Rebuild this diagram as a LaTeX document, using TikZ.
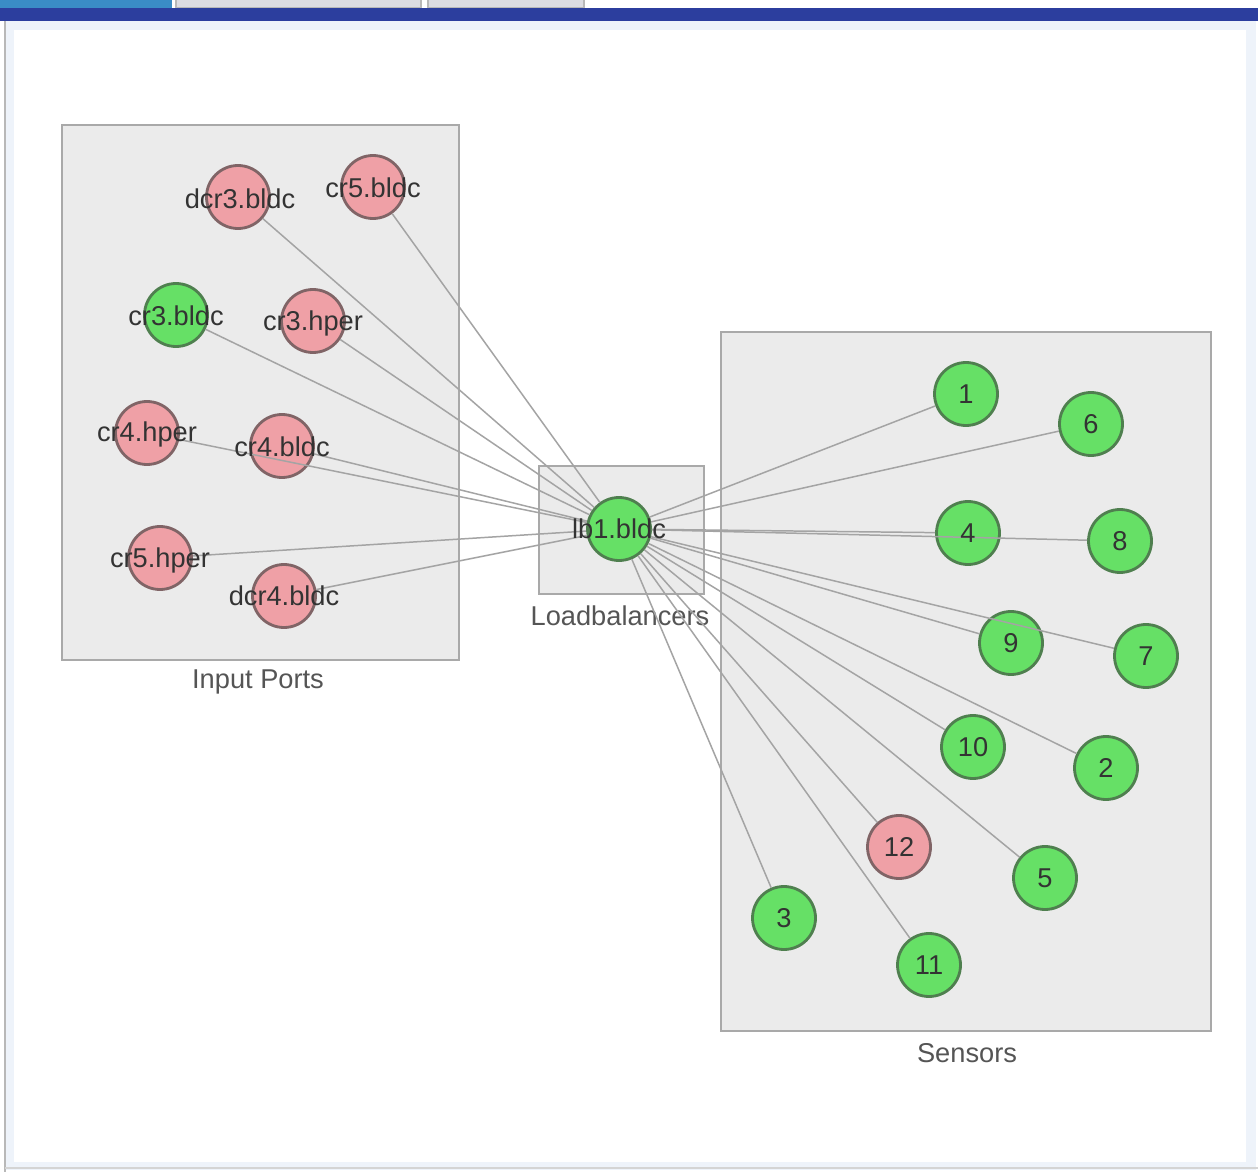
\documentclass[tikz,border=0pt]{standalone}
\usepackage{fontspec}
\setmainfont{Liberation Sans}
\definecolor{gfill}{HTML}{66E066}
\definecolor{gline}{HTML}{4F7F4F}
\definecolor{pfill}{HTML}{EFA0A6}
\definecolor{pline}{HTML}{806466}
\definecolor{boxfill}{HTML}{EBEBEB}
\definecolor{boxline}{HTML}{A9A9A9}
\definecolor{edgecol}{HTML}{A4A4A4}
\definecolor{txt}{HTML}{333333}
\definecolor{grptxt}{HTML}{555555}
\definecolor{barblue}{HTML}{2C3E9E}
\definecolor{tabblue}{HTML}{3A8CC6}
\definecolor{tabgray}{HTML}{DCDCE2}
\definecolor{frame}{HTML}{B8B8B8}
\definecolor{glow}{HTML}{EEF3FA}
\tikzset{
  vtx/.style={circle, minimum size=63*0.02cm, inner sep=0pt, line width=1.6pt},
  gvtx/.style={vtx, fill=gfill, draw=gline},
  pvtx/.style={vtx, fill=pfill, draw=pline},
  vlabel/.style={font=\fontsize{15.5pt}{17pt}\selectfont, text=txt, inner sep=0pt},
  grplabel/.style={font=\fontsize{15.5pt}{17pt}\selectfont, text=grptxt, inner sep=0pt},
  grpbox/.style={fill=boxfill, draw=boxline, line width=1pt},
  edge/.style={draw=edgecol, line width=0.85pt}
}
\begin{document}
\begin{tikzpicture}[x=0.02cm,y=-0.02cm]
\useasboundingbox (0,0) rectangle (1258,1172);
% window frame
\fill[white] (0,0) rectangle (1258,1172);
\fill[glow] (4,20) rectangle (1256,1170);
\fill[white] (14,30) rectangle (1246,1162);
\draw[frame, line width=1.5pt] (5,20) -- (5,1172);
\draw[frame!60, line width=0.8pt] (5,1168) -- (1258,1168);
% tabs and bar
\fill[tabblue] (0,0) rectangle (172,10);
\filldraw[fill=tabgray, draw=frame, line width=0.6pt] (176,-2) rectangle (421,8);
\filldraw[fill=tabgray, draw=frame, line width=0.6pt] (428,-2) rectangle (584,8);
\fill[barblue] (0,8) rectangle (1258,21);
% group boxes
\node[grpbox, minimum width=397*0.02cm, minimum height=535*0.02cm, anchor=north west] (gin) at (61,124) {};
\node[grpbox, minimum width=165*0.02cm, minimum height=128*0.02cm, anchor=north west] (glb) at (538,465) {};
\node[grpbox, minimum width=490*0.02cm, minimum height=699*0.02cm, anchor=north west] (gse) at (720,331) {};
\node[grplabel] (tin) at (258,682) {Input Ports};
\node[grplabel] (tlb) at (620,616) {Loadbalancers};
\node[grplabel] (tse) at (967,1053) {Sensors};
% vertices
\node[pvtx] (dcr3b) at (238,197) {};
\node[pvtx] (cr5b) at (373,187) {};
\node[gvtx] (cr3b) at (176,315) {};
\node[pvtx] (cr3h) at (313,321) {};
\node[pvtx] (cr4h) at (147,433) {};
\node[pvtx] (cr4b) at (282,446) {};
\node[pvtx] (cr5h) at (160,558) {};
\node[pvtx] (dcr4b) at (284,596) {};
\node[gvtx] (lb) at (619,529) {};
\node[gvtx] (s1) at (966,394) {};
\node[gvtx] (s6) at (1091,424) {};
\node[gvtx] (s4) at (968,533) {};
\node[gvtx] (s8) at (1120,541) {};
\node[gvtx] (s9) at (1011,643) {};
\node[gvtx] (s7) at (1146,656) {};
\node[gvtx] (s10) at (973,747) {};
\node[gvtx] (s2) at (1106,768) {};
\node[pvtx] (s12) at (899,847) {};
\node[gvtx] (s5) at (1045,878) {};
\node[gvtx] (s3) at (784,918) {};
\node[gvtx] (s11) at (929,965) {};
% edges
\foreach \n in {dcr3b,cr5b,cr3b,cr3h,cr4h,cr4b,cr5h,dcr4b,s1,s6,s4,s8,s9,s7,s10,s2,s12,s5,s3,s11}
  \path[edge] (lb) -- (\n);
% vertex labels
\node[vlabel] (ldcr3b) at ([xshift=2*0.02cm,yshift=-2*0.02cm]dcr3b.center) {dcr3.bldc};
\node[vlabel] (lcr5b) at ([yshift=-1*0.02cm]cr5b.center) {cr5.bldc};
\node[vlabel] (lcr3b) at ([yshift=-1*0.02cm]cr3b.center) {cr3.bldc};
\node[vlabel] (lcr3h) at ([yshift=-2*0.02cm]cr3h.center) {cr3.hper};
\node[vlabel] (lcr4h) at ([yshift=-1*0.02cm]cr4h.center) {cr4.hper};
\node[vlabel] (lcr4b) at ([yshift=-1*0.02cm]cr4b.center) {cr4.bldc};
\node[vlabel] (lcr5h) at ([yshift=-2*0.02cm]cr5h.center) {cr5.hper};
\node[vlabel] (ldcr4b) at (dcr4b.center) {dcr4.bldc};
\node[vlabel] (llb) at (lb.center) {lb1.bldc};
\foreach \n/\t in {s1/1,s6/6,s4/4,s8/8,s9/9,s7/7,s10/10,s2/2,s12/12,s5/5,s3/3,s11/11}
  \node[vlabel] (l\n) at (\n.center) {\t};
\end{tikzpicture}
\end{document}
